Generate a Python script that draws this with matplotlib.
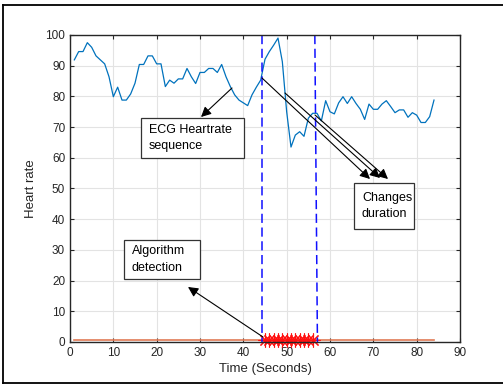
import numpy as np
import matplotlib
matplotlib.use("Agg")
import matplotlib.pyplot as plt
from matplotlib.lines import Line2D

# ECG heart rate sequence (one sample per second)
time_s = np.arange(1, 85)
heart_rate = [
    91.9, 94.6, 94.6, 97.5, 96.0, 93.2, 91.9, 90.6, 86.4, 79.9,
    83.0, 78.8, 78.8, 80.8, 84.3, 90.4, 90.4, 93.2, 93.2, 90.6,
    90.6, 83.2, 85.3, 84.3, 85.7, 85.7, 89.1, 86.4, 84.2, 87.8,
    87.8, 89.1, 89.1, 87.8, 90.4, 86.4, 83.2, 80.5, 78.8, 77.9,
    77.0, 80.5, 83.0, 85.3, 92.1, 94.6, 96.7, 99.0, 91.3, 75.0,
    63.5, 67.4, 68.5, 67.0, 72.9, 74.5, 74.5, 72.0, 78.6, 75.0,
    74.3, 77.9, 79.9, 77.7, 79.9, 77.7, 75.8, 72.5, 77.5, 75.8,
    75.8, 77.5, 78.6, 76.7, 74.7, 75.6, 75.6, 73.2, 74.7, 73.9,
    71.5, 71.5, 73.4, 78.8,
]
# algorithm output (baseline) and detected change samples
baseline = [0.6] * len(time_s)
detect_t = np.arange(45, 57)
detect_v = [0.6] * len(detect_t)
# change boundaries (start, end) drawn as dashed lines
change_start = [44.35, 44.35]
change_end = [56.5, 57.1]
bound_y = [100, 0]

W, H = 503, 385
plt.rcParams["font.family"] = ["Liberation Sans", "DejaVu Sans"]

fig = plt.figure(figsize=(W / 100, H / 100), dpi=100)
ax = fig.add_axes([70 / W, 1 - 342 / H, 390 / W, 307 / H])

ax.plot(time_s, heart_rate, color="#0072BD", lw=0.9)
ax.plot(time_s, baseline, color="#E07A55", lw=1.2)
ax.plot(detect_t, detect_v, ls="none", marker=(8, 2, 0), ms=10, mew=0.8,
        color="#FF1010", clip_on=False)
ax.plot(change_start, bound_y, "--", color="#1010FF", lw=1.1, dashes=(6, 3))
ax.plot(change_end, bound_y, "--", color="#1010FF", lw=1.1, dashes=(6, 3))

ax.set_xlim(0, 90)
ax.set_ylim(0, 100)
ax.set_xticks(np.arange(0, 91, 10))
ax.set_yticks(np.arange(0, 101, 10))
ax.grid(True, color="#E3E3E3", lw=0.8)
ax.set_axisbelow(True)
ax.tick_params(direction="in", top=True, right=True, labelsize=8.5,
               colors="#262626", length=3)
for s in ax.spines.values():
    s.set_color("#262626")
    s.set_linewidth(1.0)
ax.set_xlabel("Time (Seconds)", fontsize=9.5, color="#262626", labelpad=3)
ax.set_ylabel("Heart rate", fontsize=9.5, color="#262626", labelpad=6)


def fp(x, y):
    # image pixel -> figure fraction
    return (x / W, 1 - y / H)


def box(x0, y0, x1, y1, text):
    fig.patches.append(plt.Rectangle(fp(x0, y1), (x1 - x0) / W, (y1 - y0) / H,
                                     transform=fig.transFigure, fill=True,
                                     fc="white", ec="#333333", lw=0.9))
    fig.text(*fp(x0 + 8, (y0 + y1) / 2), text, ha="left", va="center",
             fontsize=9, linespacing=1.5)


def arrow(x0, y0, x1, y1):
    fig.add_artist(matplotlib.patches.FancyArrowPatch(
        fp(x0, y0), fp(x1, y1), transform=fig.transFigure,
        arrowstyle="-|>", mutation_scale=15, color="k", lw=0.8,
        shrinkA=0, shrinkB=0))


box(141, 118, 244, 158, "ECG Heartrate\nsequence")
box(354, 183, 414, 229, "Changes\nduration")
box(124, 240, 200, 279, "Algorithm\ndetection")

arrow(232, 88, 201, 117)
arrow(262, 78, 370, 179)
arrow(285, 93, 380, 178)
arrow(315, 115, 388, 179)
arrow(263, 337, 188, 287)

# outer frame
for xs, ys in [((3, 503), (5, 5)), ((3, 503), (383, 383)), ((3, 3), (5, 383))]:
    fig.add_artist(Line2D([x / W for x in xs], [1 - y / H for y in ys],
                          transform=fig.transFigure, color="k", lw=1.3))

fig.savefig("out.png", dpi=100)
